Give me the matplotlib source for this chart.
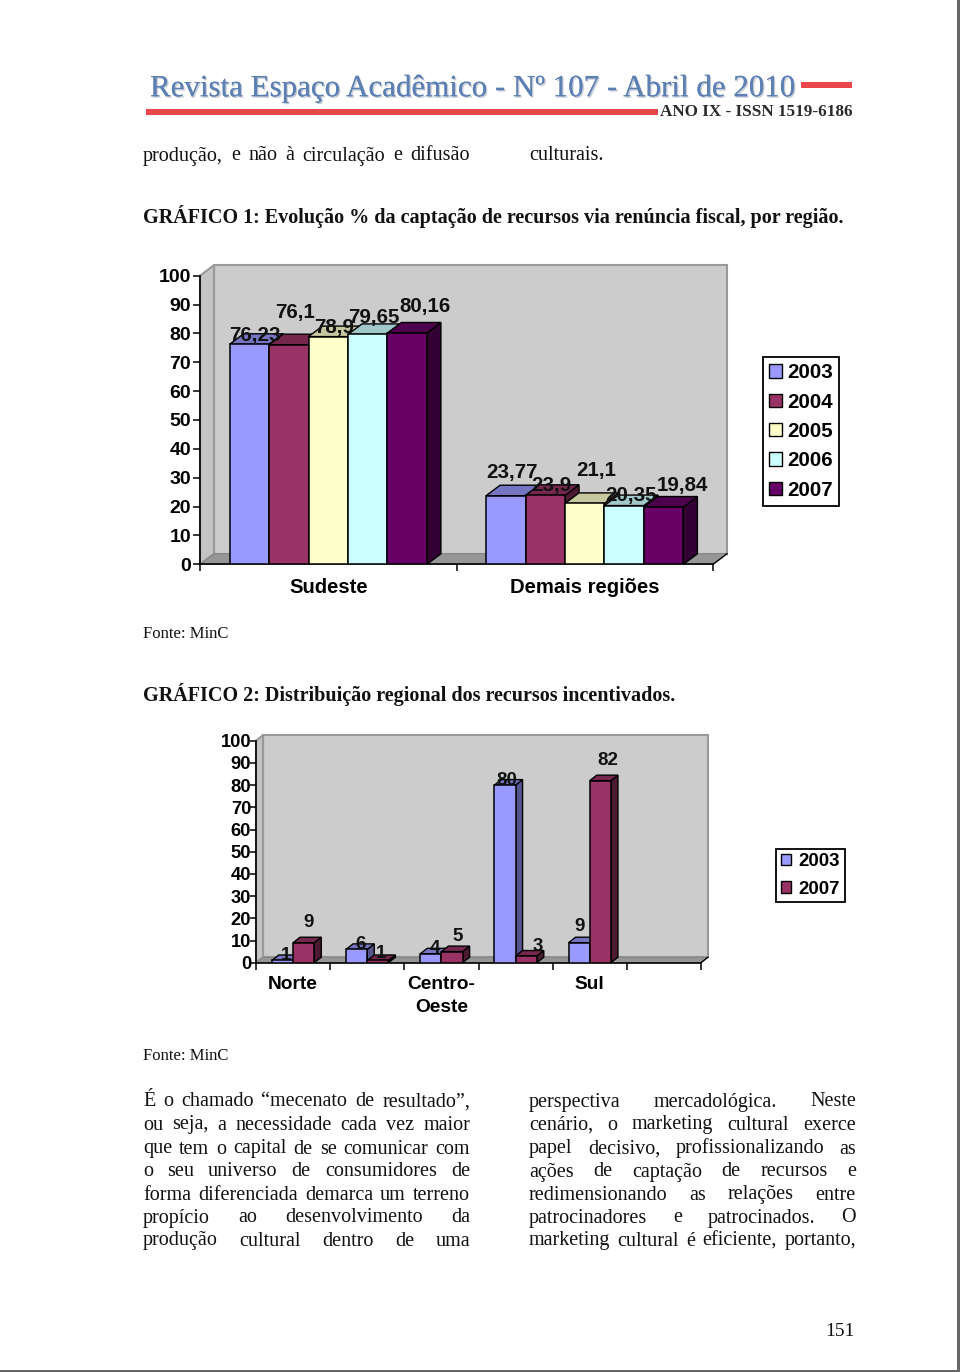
import matplotlib
matplotlib.use("Agg")
import matplotlib.pyplot as plt
import matplotlib.patheffects as pe
from matplotlib.patches import Patch, Polygon, Rectangle

# chart 1 data
regions1 = ['Sudeste', 'Demais regiões']
years1 = ['2003', '2004', '2005', '2006', '2007']
sudeste = [76.23, 76.1, 78.9, 79.65, 80.16]
demais = [23.77, 23.9, 21.1, 20.35, 19.84]
labels_sudeste = ['76,23', '76,1', '78,9', '79,65', '80,16']
labels_demais = ['23,77', '23,9', '21,1', '20,35', '19,84']

# chart 2 data
regions2 = ['Norte', '', 'Centro-\nOeste', '', 'Sul', '']
years2 = ['2003', '2007']
v2003 = [1, 6, 4, 80, 9]
v2007 = [9, 1, 5, 3, 82]

yticks = [0, 10, 20, 30, 40, 50, 60, 70, 80, 90, 100]

colors = ['#9999ff', '#993366', '#ffffcc', '#ccffff', '#660066']
tops = ['#7575c2', '#75274e', '#c8c8a0', '#a0c8c8', '#4e004e']
sides = ['#55558e', '#4c1a33', '#808066', '#668080', '#330033']

# label offsets in pixels from bar top centre
off_sudeste = [(6, 9), (6.5, 32), (6, 9), (6.5, 17), (18, 26)]
off_demais = [(6, 23.5), (6.5, 10), (11, 33), (6.5, 10.5), (18.5, 22)]
off_2003 = [(3.5, 5), (3.5, 4.5), (4, 5), (2, 5), (0, 16)]
off_2007 = [(5, 20), (3, 7), (6, 15.5), (11.5, 10), (7.5, 20.5)]

W, H = 960, 1372
fig = plt.figure(figsize=(W / 100, H / 100), dpi=100)
plt.rcParams['font.family'] = ['Liberation Sans', 'DejaVu Sans']

page = fig.add_axes([0, 0, 1, 1])
page.set_xlim(0, W)
page.set_ylim(H, 0)
page.axis('off')
renderer = fig.canvas.get_renderer()

SERIF = 'Liberation Serif'
BODY = 14.5


def justified(words, x0, x1, y, size=BODY):
    items = []
    total = 0
    for w in words.split():
        t = page.text(x0, y + 6.5, w, family=SERIF, fontsize=size, va='baseline', ha='left', color='#111111')
        width = t.get_window_extent(renderer).width
        items.append((t, width))
        total += width
    gap = (x1 - x0 - total) / (len(items) - 1)
    x = x0
    for t, width in items:
        t.set_x(x)
        x += width + gap


def line(x, y, s, size=BODY, weight='normal', ha='left'):
    page.text(x, y + 5.5, s, family=SERIF, fontsize=size, fontweight=weight, va='baseline', ha=ha, color='#111111')


def chart(rect, ncat, depth, wall_edge=1.5):
    left, top, right, bottom = rect
    ax = fig.add_axes([left / W, 1 - bottom / H, (right - left) / W, (bottom - top) / H])
    ax.set_xlim(0, ncat)
    ax.set_ylim(0, 100)
    ax.patch.set_visible(False)
    ddx = depth[0] * ncat / (right - left)
    ddy = depth[1] * 100 / (bottom - top)
    # walls and floor
    ax.add_patch(Polygon([(ddx, ddy), (ncat + ddx, ddy), (ncat + ddx, 100 + ddy), (ddx, 100 + ddy)],
                         fc='#cccccc', ec='#999999', lw=wall_edge, clip_on=False, zorder=1))
    ax.add_patch(Polygon([(0, 0), (ddx, ddy), (ddx, 100 + ddy), (0, 100)],
                         fc='#c4c4c4', ec='#999999', lw=wall_edge, clip_on=False, zorder=1))
    ax.add_patch(Polygon([(0, 0), (ncat, 0), (ncat + ddx, ddy), (ddx, ddy)],
                         fc='#969696', ec='#808080', lw=0.6, clip_on=False, zorder=1))
    ax.spines['top'].set_visible(False)
    ax.spines['right'].set_visible(False)
    for s in ('left', 'bottom'):
        ax.spines[s].set_linewidth(1.2)
        ax.spines[s].set_zorder(2)
    ax.set_yticks(yticks)
    ax.set_xticks(range(ncat + 1))
    ax.set_xticklabels([])
    ax.tick_params(axis='x', length=5, width=1.1)
    ax.plot([ncat, ncat + ddx], [0, ddy], color='black', lw=1, clip_on=False, zorder=2)
    return ax, ddx, ddy


def bar3d(ax, x, w, v, i, ddx, ddy, z):
    ax.add_patch(Polygon([(x + w, 0), (x + w + ddx, ddy), (x + w + ddx, v + ddy), (x + w, v)],
                         fc=sides[i], ec='black', lw=1, clip_on=False, zorder=z))
    ax.add_patch(Polygon([(x, v), (x + w, v), (x + w + ddx, v + ddy), (x + ddx, v + ddy)],
                         fc=tops[i], ec='black', lw=1, clip_on=False, zorder=z))
    ax.bar(x, v, w, align='edge', color=colors[i], edgecolor='black', linewidth=1.1, zorder=z + 0.1)


def value_label(ax, x, v, text, off, size):
    ax.annotate(text, (x, v), xytext=off, textcoords='offset pixels', ha='center', va='center',
                fontsize=size, fontweight='bold', color='#111111', zorder=50, annotation_clip=False)


def legend(ax, years, colors_, centre, size, spacing, hlen, tpad, bpad):
    handles = [Patch(fc=c, ec='black', lw=1) for c in colors_]
    lg = ax.legend(handles, years, loc='center', ncol=1, frameon=True, fancybox=False,
                   bbox_to_anchor=(centre[0] / W, 1 - centre[1] / H),
                   bbox_transform=fig.transFigure, handlelength=hlen, handleheight=hlen,
                   handletextpad=tpad, labelspacing=spacing, borderpad=bpad, borderaxespad=0,
                   prop={'family': 'Liberation Sans', 'weight': 'bold', 'size': size})
    lg.get_frame().set_edgecolor('black')
    lg.get_frame().set_linewidth(1.3)
    lg.get_frame().set_alpha(1)
    lg.set_zorder(60)


# header
page.text(150, 88.5, 'Revista Espaço Acadêmico - Nº 107 - Abril de 2010', family=SERIF, fontsize=22.3,
          color='#5d80b4', va='center', ha='left',
          path_effects=[pe.withSimplePatchShadow(offset=(1, -1), shadow_rgbFace='#8a94a8', alpha=0.5), pe.Normal()])
page.add_patch(Rectangle((146, 109), 512, 6, fc='#e9474c', ec='none'))
page.add_patch(Rectangle((801, 82), 51, 6, fc='#e9474c', ec='none'))
page.text(660, 111.5, 'ANO IX - ISSN 1519-6186', family=SERIF, fontsize=12.3, fontweight='bold',
          color='#2a2a2a', va='center', ha='left')

# page text
justified('produção, e não à circulação e difusão', 143, 470, 154)
line(529, 155, 'culturais.')
line(143, 218, 'GRÁFICO 1: Evolução % da captação de recursos via renúncia fiscal, por região.', weight='bold')
line(143, 632, 'Fonte: MinC', size=12)
line(143, 696, 'GRÁFICO 2: Distribuição regional dos recursos incentivados.', weight='bold')
line(143, 1055, 'Fonte: MinC', size=12)

line_y = [1100, 1123, 1147, 1170, 1193, 1216, 1239]
col1 = ['É o chamado “mecenato de resultado”,', 'ou seja, a necessidade cada vez maior',
        'que tem o capital de se comunicar com', 'o seu universo de consumidores de',
        'forma diferenciada demarca um terreno', 'propício ao desenvolvimento da',
        'produção cultural dentro de uma']
col2 = ['perspectiva mercadológica. Neste', 'cenário, o marketing cultural exerce',
        'papel decisivo, profissionalizando as', 'ações de captação de recursos e',
        'redimensionando as relações entre', 'patrocinadores e patrocinados. O',
        'marketing cultural é eficiente, portanto,']
for y, a, b in zip(line_y, col1, col2):
    justified(a, 143, 470, y)
    justified(b, 529, 856, y)
line(855, 1330, '151', size=14, ha='right')

# page edge
page.add_patch(Rectangle((957, 0), 3, H, fc='#666666', ec='none'))
page.add_patch(Rectangle((0, 1370), W, 2, fc='#666666', ec='none'))

# chart 1
ax1, dx1, dy1 = chart((200, 275.7, 713, 564.3), 2, (14, 10.5))
bw = 1 / (5 + 1.5)
for c, (vals, labs, offs) in enumerate([(sudeste, labels_sudeste, off_sudeste), (demais, labels_demais, off_demais)]):
    for i, v in enumerate(vals):
        x = c + 0.75 * bw + i * bw
        bar3d(ax1, x, bw, v, i, dx1, dy1, 5 + i)
        value_label(ax1, x + bw / 2, v, labs[i], offs[i], 14.8)
ax1.set_yticklabels([str(t) for t in yticks], fontsize=14, fontweight='bold')
ax1.tick_params(axis='y', length=5, width=1.1, pad=1.5)
ax1.set_xticks([0.5, 1.5], minor=True)
ax1.set_xticklabels(regions1, minor=True, fontsize=14.6, fontweight='bold')
ax1.tick_params(axis='x', which='minor', length=0, pad=10)
legend(ax1, years1, colors, (801, 431.5), 14.8, 0.5, 0.63, 0.25, 0.3)

# chart 2
ax2, dx2, dy2 = chart((256, 740.7, 701, 962.7), 6, (7, 5.5))
bw = 1 / (2 + 1.5)
for c in range(len(v2003)):
    x = c + 0.75 * bw
    bar3d(ax2, x, bw, v2003[c], 0, dx2, dy2, 5 + 2 * c)
    bar3d(ax2, x + bw, bw, v2007[c], 1, dx2, dy2, 6 + 2 * c)
    value_label(ax2, x + bw / 2, v2003[c], str(v2003[c]), off_2003[c], 13.5)
    value_label(ax2, x + 1.5 * bw, v2007[c], str(v2007[c]), off_2007[c], 13.5)
ax2.set_yticklabels([str(t) for t in yticks], fontsize=13.2, fontweight='bold')
ax2.tick_params(axis='y', length=4.5, width=1.1, pad=-1)
ax2.set_xticks([0.5, 1.5, 2.5, 3.5, 4.5, 5.5], minor=True)
ax2.set_xticklabels(regions2, minor=True, fontsize=13.8, fontweight='bold', linespacing=1.45)
ax2.tick_params(axis='x', which='minor', length=0, pad=9.5)
legend(ax2, years2, ['#9999ff', '#993366'], (810.5, 875.5), 13.4, 0.55, 0.55, 0.42, 0.24)

fig.savefig('out.png', dpi=100)
